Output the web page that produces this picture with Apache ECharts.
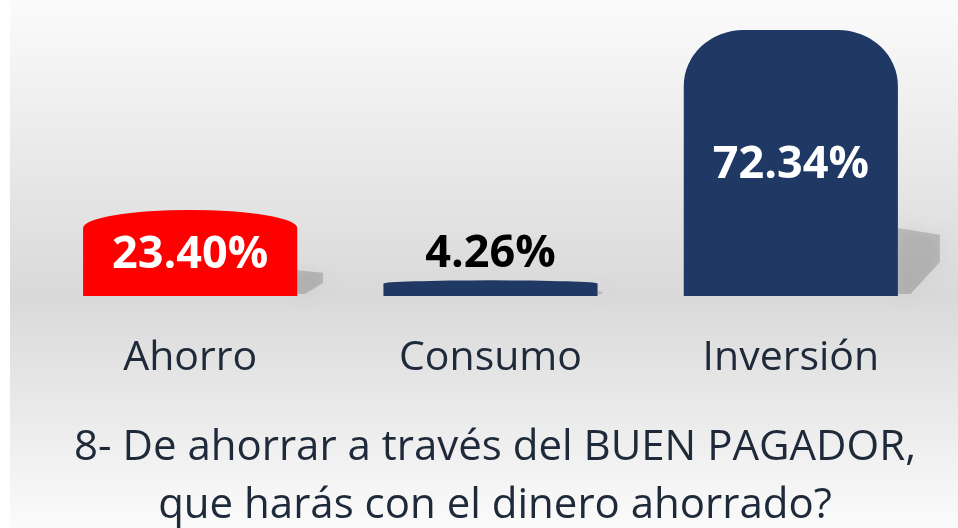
<!DOCTYPE html>
<html>
<head>
<meta charset="utf-8">
<script src="https://cdn.jsdelivr.net/npm/echarts@6/dist/echarts.min.js"></script>
<style>
  html, body { margin: 0; padding: 0; background: #fff; }
  #chart { width: 958px; height: 528px; }
</style>
</head>
<body>
<div id="chart"></div>
<script>
// datos del grafico
var categorias = ['Ahorro', 'Consumo', 'Inversión'];
var porcentajes = [23.40, 4.26, 72.34];
var colores = ['#ff0000', '#203864', '#203864'];
var titulo = '8- De ahorrar a través del BUEN PAGADOR,\nque harás con el dinero ahorrado?';

var chart = echarts.init(document.getElementById('chart'));

var fuente = '"Open Sans", "Noto Sans", sans-serif';

// barra con la parte de arriba redondeada + sombra a la derecha
function dibujarBarra(params, api) {
    var base = api.coord([api.value(0), 0]);
    var tope = api.coord([api.value(0), api.value(1)]);
    var w = api.size([1, 0])[0] * 0.713;
    var x0 = base[0] - w / 2, x1 = base[0] + w / 2;
    var yb = base[1], yt = tope[1];
    var h = yb - yt;
    var ry = h * 0.21;
    var rx = h > w ? w * 0.28 : w / 2;

    var d = 'M' + x0 + ' ' + yb +
        ' L' + x0 + ' ' + (yt + ry) +
        ' A' + rx + ' ' + ry + ' 0 0 1 ' + (x0 + rx) + ' ' + yt +
        ' L' + (x1 - rx) + ' ' + yt +
        ' A' + rx + ' ' + ry + ' 0 0 1 ' + x1 + ' ' + (yt + ry) +
        ' L' + x1 + ' ' + yb + ' Z';

    var sh = Math.min(68, h * 0.3);
    var sw = Math.min(42, sh);

    var valor = api.value(1);
    var dentro = h > 60;
    var etiqueta = valor.toFixed(2) + '%';

    return {
        type: 'group',
        children: [
            {
                type: 'polygon',
                shape: {
                    points: [
                        [x1, yb - sh],
                        [x1 + sw, yb - sh * 0.9],
                        [x1 + sw, yb - sh * 0.5],
                        [x1 + sw * 0.3, yb - 2],
                        [x1, yb - 2]
                    ]
                },
                style: {
                    fill: 'rgba(0,0,0,0.16)',
                    shadowBlur: 14,
                    shadowColor: 'rgba(0,0,0,0.3)'
                }
            },
            {
                type: 'path',
                shape: { pathData: d },
                style: { fill: colores[params.dataIndex] }
            },
            {
                type: 'text',
                z2: 10,
                style: {
                    text: etiqueta,
                    x: base[0],
                    y: dentro ? (yt + yb) / 2 + 2 : yt - 26,
                    align: 'center',
                    verticalAlign: 'middle',
                    fill: dentro ? '#ffffff' : '#000000',
                    font: 'bold 45px ' + fuente
                }
            }
        ]
    };
}

var option = {
    backgroundColor: '#ffffff',
    animation: false,
    graphic: [
        {
            type: 'rect',
            z: -10,
            shape: { x: 10, y: 0, width: 948, height: 528 },
            style: {
                fill: new echarts.graphic.LinearGradient(0, 0, 0, 1, [
                    { offset: 0, color: '#fbfbfb' },
                    { offset: 0.56, color: '#d9d9d9' },
                    { offset: 1, color: '#fbfbfb' }
                ])
            }
        }
    ],
    title: {
        text: titulo,
        left: 490,
        top: 414,
        textAlign: 'center',
        textStyle: {
            fontFamily: fuente,
            fontSize: 42,
            fontWeight: 'normal',
            color: '#1e2939',
            lineHeight: 58
        }
    },
    grid: {
        left: 40,
        right: 17,
        top: 30,
        bottom: 232
    },
    xAxis: {
        type: 'category',
        data: categorias,
        axisLine: { show: false },
        axisTick: { show: false },
        axisLabel: {
            margin: 42,
            fontFamily: fuente,
            fontSize: 41,
            color: '#1e2939'
        }
    },
    yAxis: {
        type: 'value',
        min: 0,
        max: 'dataMax',
        show: false
    },
    series: [
        {
            type: 'custom',
            renderItem: dibujarBarra,
            data: porcentajes.map(function (v, i) { return [i, v]; })
        }
    ]
};

chart.setOption(option);
window.onresize = chart.resize;
</script>
</body>
</html>
